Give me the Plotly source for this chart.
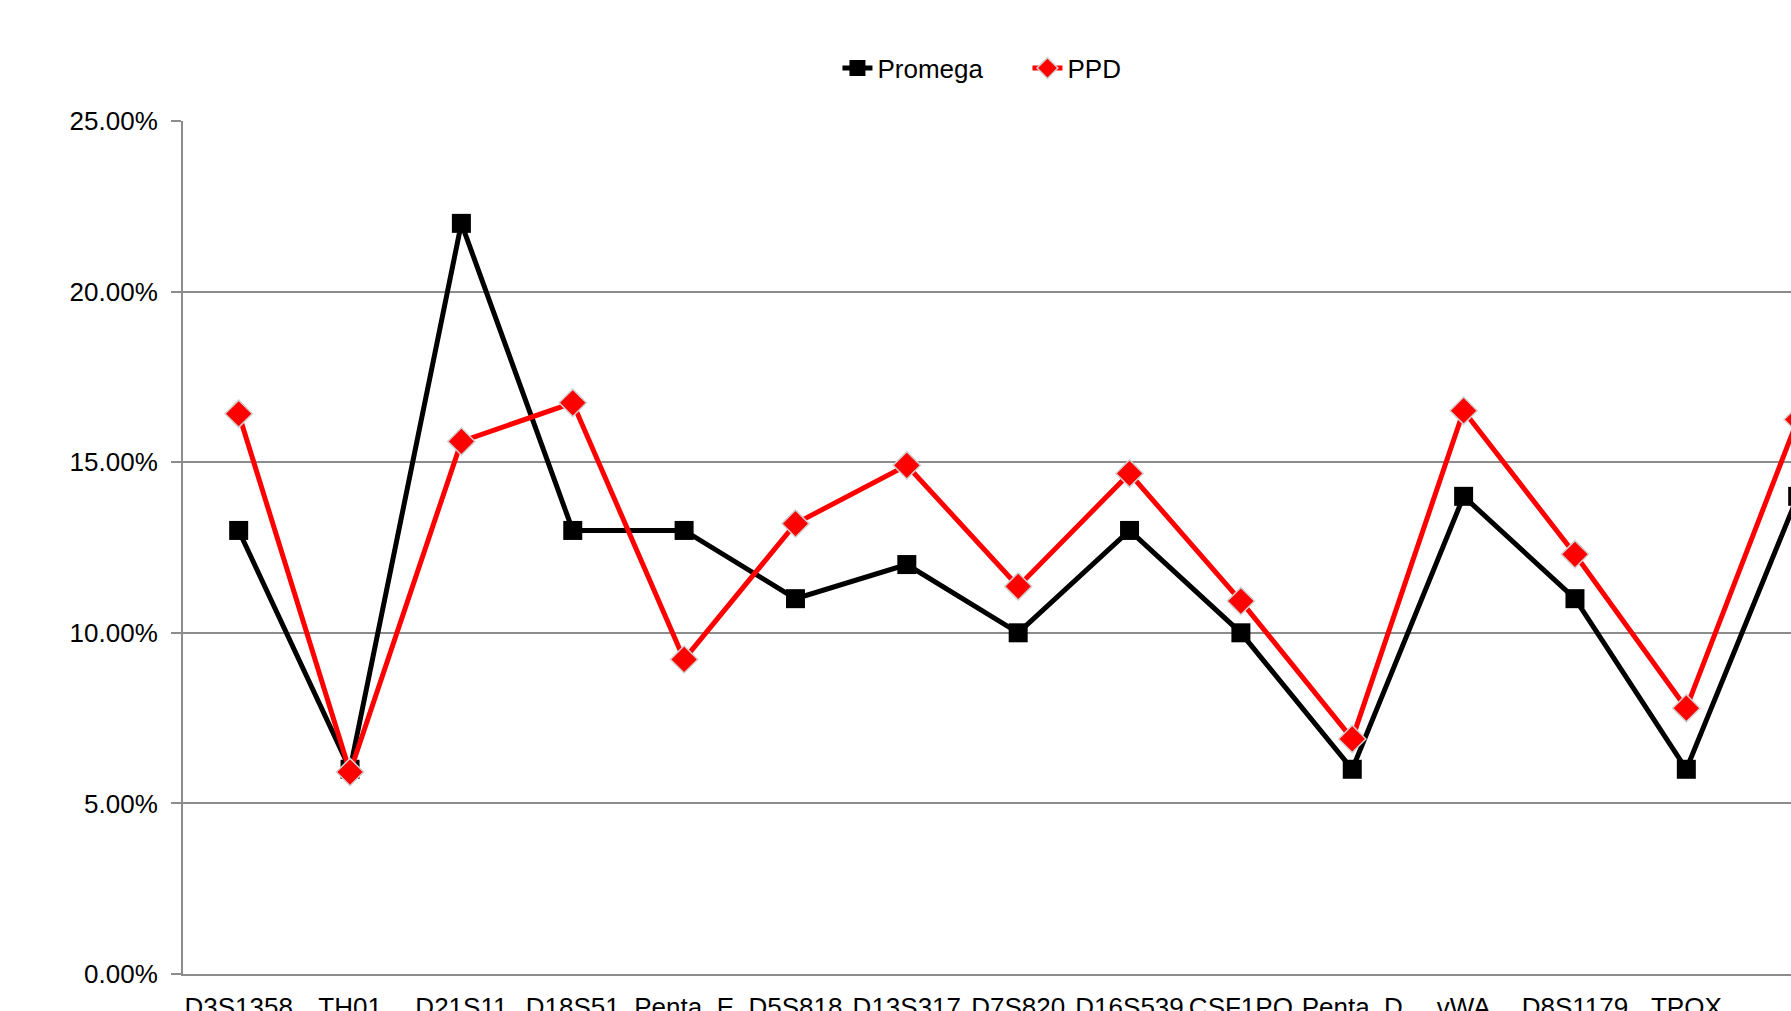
import plotly.graph_objects as go

loci = ["D3S1358", "TH01", "D21S11", "D18S51", "Penta_E", "D5S818", "D13S317",
        "D7S820", "D16S539", "CSF1PO", "Penta_D", "vWA", "D8S1179", "TPOX", "FGA"]
promega = [0.13, 0.06, 0.22, 0.13, 0.13, 0.11, 0.12, 0.10, 0.13, 0.10, 0.06, 0.14, 0.11, 0.06, 0.14]
ppd = [0.1642, 0.0592, 0.1561, 0.1674, 0.0922, 0.1320, 0.1491, 0.1136, 0.1467, 0.1093,
       0.0689, 0.1651, 0.1230, 0.0779, 0.1625]
y_ticks = [0, 0.05, 0.10, 0.15, 0.20, 0.25]

FONT = "Arial, 'Liberation Sans', sans-serif"
GRID = "#8c8c8c"

fig = go.Figure()
fig.add_trace(go.Scatter(
    x=loci, y=promega, name="Promega", mode="lines+markers",
    line=dict(color="black", width=5),
    marker=dict(symbol="square", size=19, color="black", line=dict(color="black", width=0)),
    cliponaxis=True,
))
fig.add_trace(go.Scatter(
    x=loci, y=ppd, name="PPD", mode="lines+markers",
    line=dict(color="#ff0000", width=5),
    marker=dict(symbol="diamond", size=21, color="#ff0000", line=dict(color="#d0d0d0", width=1.5)),
    cliponaxis=True,
))

fig.update_layout(
    width=1791, height=1011,
    margin=dict(l=183, r=0, t=121, b=37, autoexpand=False),
    paper_bgcolor="white", plot_bgcolor="white",
    font=dict(family=FONT, size=26, color="black"),
    showlegend=True,
    legend=dict(orientation="h", x=0.407, xanchor="left", y=1.062, yanchor="middle",
                font=dict(family=FONT, size=26, color="black"),
                bgcolor="rgba(0,0,0,0)", entrywidth=145, entrywidthmode="pixels",
                tracegroupgap=0),
    xaxis=dict(
        type="category", range=[-0.5, 13.94], automargin=False,
        showgrid=False, showline=True, linecolor=GRID, linewidth=2,
        ticks="", tickfont=dict(family=FONT, size=26, color="black"),
        ticklabelstandoff=9, zeroline=False, fixedrange=True,
    ),
    yaxis=dict(
        range=[0, 0.25], tickvals=y_ticks, tickformat=".2%", automargin=False,
        showgrid=True, gridcolor=GRID, gridwidth=2,
        showline=True, linecolor=GRID, linewidth=2,
        ticks="outside", ticklen=10, tickcolor=GRID, tickwidth=2,
        tickfont=dict(family=FONT, size=26, color="black"),
        ticklabelstandoff=8, zeroline=False,
    ),
)

fig.write_html("out.html")
